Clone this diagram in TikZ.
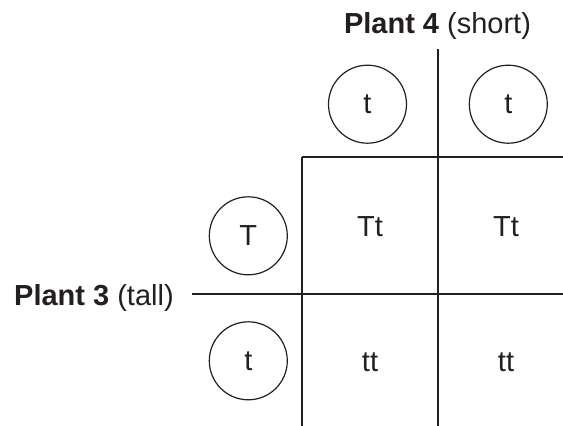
\documentclass[tikz,border=0pt]{standalone}
\usepackage{fontspec}
\setmainfont{Liberation Sans}
\definecolor{ink}{RGB}{35,31,32}
\begin{document}
\begin{tikzpicture}[x=1pt,y=-1pt,
  lbl/.style={font=\fontsize{29}{34}\selectfont, text=ink, inner sep=0pt},
  allele/.style={circle, draw=ink, line width=1.2pt, minimum size=78pt, inner sep=0pt, font=\fontsize{29}{34}\selectfont, text=ink},
  grid/.style={draw=ink, line width=2pt}]
\useasboundingbox (0,0) rectangle (563,426);
% grid endpoints
\coordinate (vmTop) at (437.7,49);
\coordinate (vmBot) at (437.7,426);
\coordinate (vlTop) at (301.5,157.3);
\coordinate (vlBot) at (301.5,426);
\coordinate (htR) at (563,157.3);
\coordinate (hmL) at (192,293.7);
\coordinate (hmR) at (563,293.7);
\draw[grid] (vmTop) -- (vmBot);
\draw[grid] (vlTop) -- (vlBot);
\draw[grid] (vlTop) -- (htR);
\draw[grid] (hmL) -- (hmR);
% titles
\node[lbl, anchor=base] (p4) at (437.5,33.3) {\textbf{Plant 4} (short)};
\node[lbl, anchor=base west] (p3) at (14,305) {\textbf{Plant 3} (tall)};
% gametes
\node[allele] (g1) at (367.5,104.2) {t};
\node[allele] (g2) at (508.3,104.2) {t};
\node[allele] (g3) at (248.3,235.8) {T};
\node[allele] (g4) at (248.3,360.8) {t};
% offspring
\node[lbl] (c11) at (370,226.5) {Tt};
\node[lbl] (c12) at (506,226.5) {Tt};
\node[lbl] (c21) at (370,362) {tt};
\node[lbl] (c22) at (506,362) {tt};
\end{tikzpicture}
\end{document}
